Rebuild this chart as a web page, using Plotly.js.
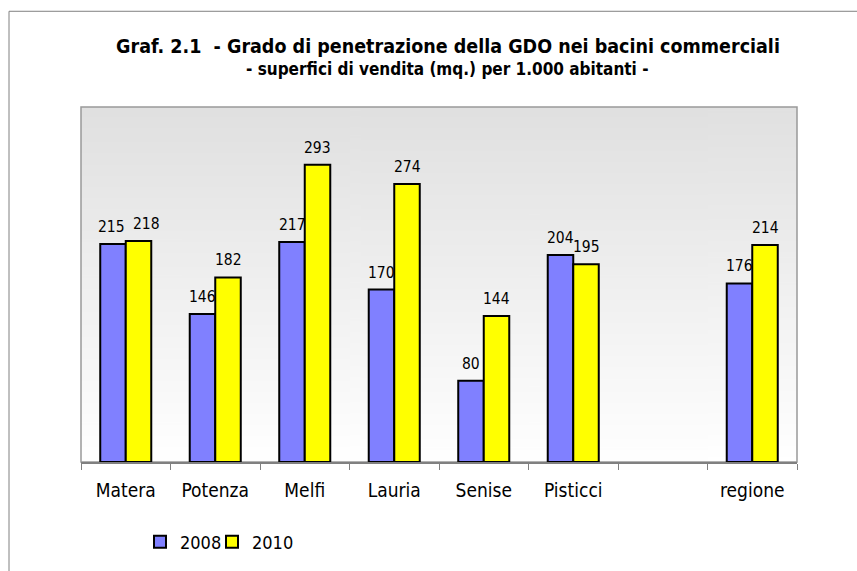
<!DOCTYPE html>
<html>
<head>
<meta charset="utf-8">
<script src="https://cdn.plot.ly/plotly-3.0.1.min.js"></script>
<style>
html,body{margin:0;padding:0;background:#fff;}
#chart{width:857px;height:571px;}
</style>
</head>
<body>
<div id="chart"></div>
<script>
// ---- data ----
const categories = ['Matera', 'Potenza', 'Melfi', 'Lauria', 'Senise', 'Pisticci', ' ', 'regione'];
const series2008 = [215, 146, 217, 170, 80, 204, null, 176];
const series2010 = [218, 182, 293, 274, 144, 195, null, 214];
const seriesNames = ['2008', '2010'];
const titleLine1 = 'Graf. 2.1  - Grado di penetrazione della GDO nei bacini commerciali';
const titleLine2 = '- superfici di vendita (mq.) per 1.000 abitanti -';

// ---- layout constants ----
const W = 857, H = 571;
const M = {l: 81, r: 60, t: 107, b: 108};
const PW = W - M.l - M.r, PH = H - M.t - M.b;
const px2x = p => (p - M.l) / PW;
const py2y = p => (H - M.b - p) / PH;
const FONT = 'Tahoma, "DejaVu Sans Condensed", "DejaVu Sans", sans-serif';
const bargap = 0.43;
const barW = (1 - bargap) / 2;

// gradient background image
const cv = document.createElement('canvas');
cv.width = 4; cv.height = 256;
const ctx = cv.getContext('2d');
const g = ctx.createLinearGradient(0, 0, 0, 256);
g.addColorStop(0, '#e0e0e0');
g.addColorStop(1, '#ffffff');
ctx.fillStyle = g;
ctx.fillRect(0, 0, 4, 256);
const bgURL = cv.toDataURL('image/png');

const traces = [
  {type: 'bar', name: seriesNames[0], x: categories, y: series2008,
   marker: {color: '#8080ff', line: {color: '#000000', width: 2}}, hoverinfo: 'none'},
  {type: 'bar', name: seriesNames[1], x: categories, y: series2010,
   marker: {color: '#ffff00', line: {color: '#000000', width: 2}}, hoverinfo: 'none'},
  // blank spacer entry so the compact legend does not clip the last label
  {type: 'bar', name: ' ', x: categories, y: series2010, visible: 'legendonly',
   marker: {color: 'rgba(0,0,0,0)', line: {width: 0}}, hoverinfo: 'none'}
];

// value labels; spread apart when both labels of a group sit at nearly the same height
const annotations = [];
categories.forEach((c, i) => {
  const a = series2008[i], b = series2010[i];
  if (a === null || b === null) return;
  const close = Math.abs(a - b) < 6;
  [[a, -1], [b, 1]].forEach(([v, side]) => {
    annotations.push({
      xref: 'x', yref: 'y', x: i + side * barW / 2, y: v,
      xshift: close ? (side < 0 ? -2 : 8) : 0,
      text: String(v), showarrow: false, yanchor: 'bottom', yshift: 6,
      font: {family: FONT, size: 15.5, color: '#000'}
    });
  });
});
annotations.push({
  xref: 'paper', yref: 'paper', x: px2x(447), y: py2y(69), xanchor: 'center', yanchor: 'middle',
  text: '<b>' + titleLine2 + '</b>', showarrow: false,
  font: {family: FONT, size: 17, color: '#000'}
});

const layout = {
  width: W, height: H,
  margin: M,
  paper_bgcolor: '#ffffff',
  plot_bgcolor: 'rgba(0,0,0,0)',
  title: {text: '<b>' + titleLine1 + '</b>', font: {family: FONT, size: 19.5, color: '#000'},
          x: 448 / W, xanchor: 'center', y: 1 - 46 / H, yanchor: 'middle'},
  barmode: 'group', bargap: bargap, bargroupgap: 0,
  showlegend: true,
  legend: {orientation: 'h', x: px2x(140), y: py2y(542), xanchor: 'left', yanchor: 'middle',
           font: {family: FONT, size: 18, color: '#000'}, itemwidth: 30,
           entrywidth: 27, entrywidthmode: 'pixels', bgcolor: 'rgba(0,0,0,0)',
           itemclick: false, itemdoubleclick: false},
  xaxis: {type: 'category', tickson: 'boundaries', ticks: 'outside', ticklen: 6, tickcolor: '#808080',
          tickwidth: 1, showline: true, linecolor: '#808080', linewidth: 1.5, showgrid: false,
          tickfont: {family: FONT, size: 19, color: '#000'}, ticklabelstandoff: 11, fixedrange: true},
  yaxis: {range: [0, 350], showticklabels: false, showgrid: false, zeroline: false, ticks: '',
          showline: false, fixedrange: true},
  images: [{source: bgURL, xref: 'paper', yref: 'paper', x: 0, y: 1, sizex: 1, sizey: 1,
            sizing: 'stretch', xanchor: 'left', yanchor: 'top', layer: 'below'}],
  shapes: [
    {type: 'rect', xref: 'paper', yref: 'paper', x0: 0, x1: 1, y0: 0, y1: 1,
     line: {color: '#999999', width: 1.5}, layer: 'below'},
    {type: 'line', xref: 'paper', yref: 'paper', x0: px2x(9), x1: px2x(W + 2), y0: py2y(11), y1: py2y(11),
     line: {color: '#808080', width: 1}},
    {type: 'line', xref: 'paper', yref: 'paper', x0: px2x(9), x1: px2x(9), y0: py2y(11), y1: py2y(H + 2),
     line: {color: '#808080', width: 1}}
  ],
  annotations: annotations
};

Plotly.newPlot('chart', traces, layout, {displayModeBar: false, staticPlot: true});
</script>
</body>
</html>
